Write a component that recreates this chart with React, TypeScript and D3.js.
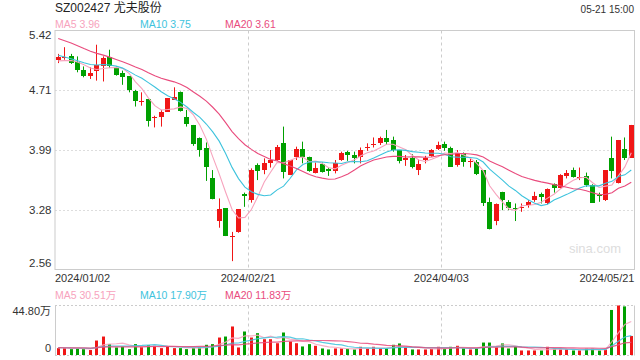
import React from "react";
import * as d3 from "d3";

const title = "SZ002427 尤夫股份";
const timeLabel = "05-21 15:00";

const opens = [5.07,5.09,5.11,5.04,4.95,4.88,4.93,4.99,5.10,4.97,4.91,4.87,4.70,4.57,4.60,4.38,4.39,4.45,4.59,4.69,4.38,4.29,4.13,4.01,3.65,3.14,3.29,2.95,3.01,3.46,3.39,3.81,3.75,3.83,3.87,4.07,3.69,3.91,4.00,3.91,3.71,3.82,3.76,3.74,3.87,3.97,3.93,3.91,4.01,4.05,4.07,4.13,4.11,3.99,3.87,3.89,3.75,3.87,3.92,4.00,4.06,4.01,3.81,3.95,3.85,3.85,3.75,3.37,3.14,3.49,3.37,3.30,3.30,3.33,3.39,3.46,3.35,3.58,3.54,3.68,3.75,3.65,3.68,3.57,3.45,3.39,3.89,3.59,4.00,3.90];
const highs = [5.14,5.22,5.14,5.11,4.99,4.98,5.25,5.11,5.19,4.99,4.94,4.87,4.71,4.68,4.60,4.40,4.47,4.61,4.74,4.69,4.47,4.29,4.14,4.08,3.75,3.41,3.29,3.01,3.28,3.48,3.77,3.83,3.89,3.99,4.05,4.27,3.87,4.03,4.09,3.91,3.84,3.84,3.78,3.87,3.97,3.98,3.97,4.02,4.07,4.14,4.15,4.23,4.15,3.99,3.93,3.94,3.88,3.92,4.00,4.09,4.09,4.03,3.99,3.96,3.89,3.87,3.75,3.42,3.35,3.49,3.39,3.35,3.35,3.39,3.49,3.48,3.53,3.59,3.70,3.75,3.78,3.78,3.72,3.58,3.48,3.75,4.15,4.11,4.14,4.29];
const lows = [5.03,5.07,5.02,4.92,4.86,4.84,4.82,4.81,4.97,4.88,4.77,4.68,4.51,4.52,4.27,4.26,4.27,4.45,4.59,4.45,4.27,4.04,3.91,3.62,3.40,3.06,2.96,2.66,3.00,3.31,3.36,3.63,3.70,3.78,3.86,3.65,3.69,3.87,3.83,3.73,3.71,3.72,3.68,3.71,3.86,3.86,3.83,3.83,3.98,4.02,4.05,4.05,3.97,3.83,3.80,3.77,3.69,3.83,3.91,3.99,3.98,3.79,3.79,3.79,3.78,3.69,3.32,3.04,3.09,3.27,3.27,3.14,3.25,3.30,3.37,3.35,3.34,3.48,3.53,3.65,3.66,3.63,3.55,3.36,3.37,3.38,3.65,3.59,3.87,3.90];
const closes = [5.10,5.10,5.03,4.95,4.87,4.91,5.01,5.09,4.99,4.89,4.86,4.71,4.58,4.58,4.34,4.39,4.45,4.61,4.62,4.46,4.30,4.06,3.99,3.79,3.40,3.28,2.96,2.96,3.28,3.44,3.75,3.74,3.83,3.87,4.02,3.73,3.87,4.00,3.91,3.74,3.77,3.73,3.74,3.84,3.96,3.93,3.89,3.99,4.02,4.06,4.13,4.09,3.99,3.86,3.89,3.79,3.82,3.90,3.99,4.05,4.01,3.79,3.95,3.85,3.86,3.70,3.36,3.04,3.34,3.39,3.29,3.28,3.31,3.37,3.44,3.43,3.52,3.54,3.69,3.72,3.67,3.67,3.57,3.36,3.44,3.75,3.74,4.11,3.90,4.29];
const volumes = [6.6,6.6,5.7,6.3,5.7,4.9,13.4,17.0,10.2,7.2,7.8,5.7,10.2,7.8,9.3,8.7,6.6,8.5,6.6,6.6,5.7,6.6,7.2,9.6,10.2,16.1,17.0,26.0,7.2,21.5,16.1,20.0,14.6,14.6,11.0,20.6,12.5,11.0,8.1,10.2,8.7,6.3,5.4,6.3,6.3,6.0,5.4,7.8,6.3,7.8,6.3,6.3,9.6,10.8,7.2,5.4,5.4,5.4,6.0,7.8,6.0,7.8,8.7,6.3,5.4,6.3,11.6,11.6,7.2,10.8,6.3,7.8,4.5,4.5,4.5,4.5,7.8,6.0,5.4,5.4,4.5,4.5,6.0,6.0,4.5,5.4,40.8,44.8,44.0,17.5];

// estimated late-2023 values, only used so the moving averages start at the left edge
const priorCloses = [5.62,5.60,5.58,5.56,5.55,5.52,5.50,5.47,5.45,5.40,5.30,5.25,5.18,5.12,5.10,5.08,5.03,5.04,5.03];
const priorVolumes = [7.1,6.8,7.4,6.5,7.0,7.3,6.9,6.6,7.2,7.0,6.8,7.5,6.7,7.1,6.9,7.3,6.6,7.0,7.2];

const priceTicks = [5.42, 4.705, 3.99, 3.275, 2.56];
const priceTickLabels = ["5.42", "4.71", "3.99", "3.28", "2.56"];
const xTickIndex = [0, 30, 60, 89];
const xTickLabels = ["2024/01/02", "2024/02/21", "2024/04/03", "2024/05/21"];
const gridIndex = [30, 60];
const maPeriods = [5, 10, 20];
const maColors = ["#f7a3bd", "#3ec3dd", "#e94b7d"];
const priceMaLabels = ["MA5 3.96", "MA10 3.75", "MA20 3.61"];
const volMaLabels = ["MA5 30.51万", "MA10 17.90万", "MA20 11.83万"];
const volMax = 44.8;
const volTickLabels = ["44.80万", "0"];

const RED = "#f01616";
const GREEN = "#00a000";
const FONT = "'Liberation Sans', Arial, 'Noto Sans CJK SC', sans-serif";

function movingAvg(prior: number[], data: number[], p: number): number[] {
  const full = prior.concat(data);
  const off = prior.length;
  return data.map((_, i) => {
    const end = i + off;
    return d3.mean(full.slice(end - p + 1, end + 1)) as number;
  });
}

export default function App() {
  const left = 55, right = 634.5;
  const pTop = 30.5, pBot = 269.5;
  const vTop = 305.5, vBot = 355.5;
  const idx = d3.range(closes.length);
  const x = d3.scaleBand<number>().domain(idx).range([left, right]);
  const bw = x.bandwidth();
  const cx = (i: number) => (x(i) as number) + bw / 2;
  const y = d3.scaleLinear().domain([2.56, 5.42]).range([pBot, pTop]);
  const yv = d3.scaleLinear().domain([0, volMax]).range([vBot, vTop]);

  const priceMAs = maPeriods.map((p) => movingAvg(priorCloses, closes, p));
  const volMAs = maPeriods.map((p) => movingAvg(priorVolumes, volumes, p));
  const linePrice = d3.line<number>().x((_, i) => cx(i)).y((d) => y(d));
  const lineVol = d3.line<number>().x((_, i) => cx(i)).y((d) => yv(d));

  const isUp = (i: number) => closes[i] >= opens[i];

  return (
    <svg width={640} height={360} style={{ position: "fixed", left: 0, top: 0, background: "#fff" }} fontFamily={FONT}>
      <rect x={0} y={0} width={640} height={360} fill="#fff" />
      <text x={55} y={12} fontSize={12} fill="#222">{title}</text>
      <text x={634} y={12.5} fontSize={10} fill="#333" textAnchor="end">{timeLabel}</text>
      {priceMaLabels.map((t, k) => (
        <text key={t} x={55 + k * 85} y={28} fontSize={10.5} fill={maColors[k]}>{t}</text>
      ))}

      {/* price grid */}
      {priceTicks.slice(1, -1).map((t) => (
        <line key={t} x1={left} x2={right} y1={Math.round(y(t)) + 0.5} y2={Math.round(y(t)) + 0.5} stroke="#ddd" strokeDasharray="2,2" />
      ))}
      {gridIndex.map((gi) => (
        <line key={"g" + gi} x1={Math.round(x(gi) as number) + 0.5} x2={Math.round(x(gi) as number) + 0.5} y1={pTop} y2={pBot} stroke="#ccc" strokeDasharray="3,3" />
      ))}
      {gridIndex.map((gi) => (
        <line key={"gv" + gi} x1={Math.round(x(gi) as number) + 0.5} x2={Math.round(x(gi) as number) + 0.5} y1={vTop} y2={vBot} stroke="#ccc" strokeDasharray="3,3" />
      ))}
      <rect x={left} y={pTop} width={right - left} height={pBot - pTop} fill="none" stroke="#ccc" />
      <text x={621} y={253} fontSize={13} fill="#ddd" textAnchor="end">sina.com</text>

      {/* candles */}
      {idx.map((i) => {
        const c = isUp(i) ? RED : GREEN;
        const bx = Math.round(cx(i) - 2.5);
        const top = y(Math.max(opens[i], closes[i]));
        const bot = y(Math.min(opens[i], closes[i]));
        const h = Math.max(1, Math.round(bot) - Math.round(top));
        return (
          <g key={i}>
            <line x1={bx + 2.5} x2={bx + 2.5} y1={y(highs[i])} y2={y(lows[i])} stroke={c} strokeWidth={1} />
            <rect x={bx} y={Math.round(top)} width={5} height={h} fill={c} />
          </g>
        );
      })}

      {priceMAs.map((m, k) => (
        <path key={k} d={linePrice(m) as string} fill="none" stroke={maColors[k]} strokeWidth={1.1} />
      ))}

      {/* y labels */}
      {priceTicks.map((t, k) => {
        const yy = y(t);
        const off = k === 0 ? 8.5 : k === priceTicks.length - 1 ? -2.5 : 4;
        return (
          <text key={t} x={51.5} y={yy + off} fontSize={11.5} fill="#333" textAnchor="end">{priceTickLabels[k]}</text>
        );
      })}

      {/* x labels */}
      {xTickIndex.map((ti, k) => {
        const anchor = k === 0 ? "start" : k === xTickIndex.length - 1 ? "end" : "middle";
        const xx = k === 0 ? left : k === xTickIndex.length - 1 ? right : (x(ti) as number);
        return (
          <text key={ti} x={xx} y={282} fontSize={11} fill="#333" textAnchor={anchor}>{xTickLabels[k]}</text>
        );
      })}

      {/* volume panel */}
      {volMaLabels.map((t, k) => (
        <text key={t} x={55 + k * 85} y={299} fontSize={10.5} fill={maColors[k]}>{t}</text>
      ))}
      <line x1={left} x2={right} y1={vTop} y2={vTop} stroke="#ccc" strokeDasharray="2,2" />
      <line x1={left} x2={right} y1={vBot} y2={vBot} stroke="#ccc" strokeDasharray="2,2" />
      <line x1={left + 0.5} x2={left + 0.5} y1={vTop} y2={vBot} stroke="#ccc" />
      <line x1={right} x2={right} y1={vTop} y2={vBot} stroke="#ccc" />
      {idx.map((i) => {
        const top = yv(volumes[i]);
        return (
          <rect key={"v" + i} x={Math.round(cx(i) - 1.5)} y={top} width={3} height={vBot - 0.5 - top} fill={isUp(i) ? RED : GREEN} />
        );
      })}
      {volMAs.map((m, k) => (
        <path key={"vm" + k} d={lineVol(m) as string} fill="none" stroke={maColors[k]} strokeWidth={1.2} opacity={0.85} />
      ))}
      <text x={51} y={315} fontSize={11} fill="#333" textAnchor="end">{volTickLabels[0]}</text>
      <text x={51} y={352} fontSize={11} fill="#333" textAnchor="end">{volTickLabels[1]}</text>
    </svg>
  );
}
